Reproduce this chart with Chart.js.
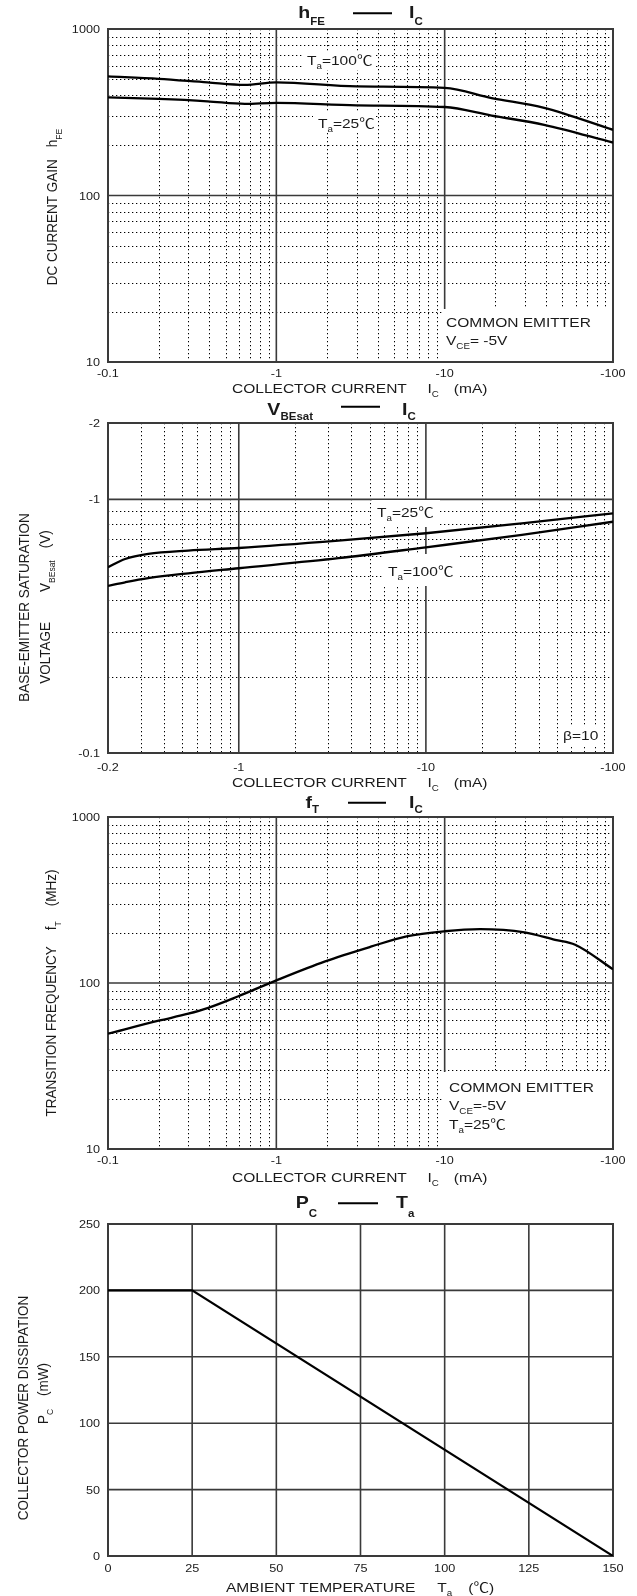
<!DOCTYPE html>
<html lang="en">
<head>
<meta charset="UTF-8" />
<title>hFE / VBEsat / fT / PC characteristics</title>
<script src="https://cdn.jsdelivr.net/npm/chart.js@4"></script>
<style>
  html, body { margin: 0; padding: 0; background: #fff; }
  .sheet { position: relative; width: 637px; height: 1596px; overflow: hidden; }
  .sheet canvas { position: absolute; left: 0; }
</style>
</head>
<body>
<div class="sheet">
  <canvas id="hfeChart" width="637" height="400" style="top:0;width:637px;height:400px"></canvas>
  <canvas id="vbeChart" width="637" height="400" style="top:395px;width:637px;height:400px"></canvas>
  <canvas id="ftChart" width="637" height="400" style="top:790px;width:637px;height:400px"></canvas>
  <canvas id="pcChart" width="637" height="406" style="top:1190px;width:637px;height:406px"></canvas>
</div>
<script>
// Values. Currents and voltages are stored as magnitudes
// (the sheet labels them negative, PNP device) so they fit log axes.

// hFE - IC
const hfeCurrent = [0.1, 0.2, 0.39, 0.65, 1, 3, 10, 19, 39, 100];
const hfeTa100 = [519, 502, 478, 462, 478, 452, 443, 385, 336, 248];
const hfeTa25 = [388, 380, 368, 355, 360, 348, 340, 302, 266, 208];

// VBEsat - IC
const vbeCurrent = [0.2, 0.247, 0.328, 0.537, 1, 3.41, 10, 32.6, 100];
const vbeTa25 = [0.540, 0.582, 0.609, 0.628, 0.643, 0.687, 0.735, 0.804, 0.881];
const vbeTa100 = [0.456, 0.471, 0.489, 0.511, 0.535, 0.586, 0.647, 0.724, 0.816];

// fT - IC
const ftCurrent = [0.1, 0.2, 0.3, 0.39, 0.59, 1, 1.95, 3.68, 5.94, 10, 16.2, 29.8, 45.3, 59.6, 100];
const ftMHz = [49.5, 59.3, 65.3, 70.6, 82.9, 103.7, 135, 166, 191, 205, 211, 202, 182, 170, 121];

// PC - Ta
const pcTemp = [0, 25, 150];
const pcPower = [200, 200, 0];

// tick values / labels
const icTicks = [0.1, 1, 10, 100];
const icLabels = ['-0.1', '-1', '-10', '-100'];
const vbeIcTicks = [0.2, 1, 10, 100];
const vbeIcLabels = ['-0.2', '-1', '-10', '-100'];
const decadeTicks = [10, 100, 1000];
const decadeLabels = ['10', '100', '1000'];
const vbeTicks = [0.1, 1, 2];
const vbeLabels = ['-0.1', '-1', '-2'];
const tempTicks = [0, 25, 50, 75, 100, 125, 150];
const tempLabels = ['0', '25', '50', '75', '100', '125', '150'];
const powerTicks = [0, 50, 100, 150, 200, 250];
const powerLabels = ['0', '50', '100', '150', '200', '250'];

// grid lines (dotted minor, solid major)
const icMinor = [0.2, 0.3, 0.4, 0.5, 0.6, 0.7, 0.8, 0.9, 2, 3, 4, 5, 6, 7, 8, 9, 20, 30, 40, 50, 60, 70, 80, 90];
const vbeIcMinor = [0.3, 0.4, 0.5, 0.6, 0.7, 0.8, 0.9, 2, 3, 4, 5, 6, 7, 8, 9, 20, 30, 40, 50, 60, 70, 80, 90];
const decadeMinor = [20, 30, 40, 50, 60, 70, 80, 90, 200, 300, 400, 500, 600, 700, 800, 900];
const vbeMinor = [0.2, 0.3, 0.4, 0.5, 0.6, 0.7, 0.8, 0.9];

const SX = 1.15; // lettering on the sheet is set a bit wide
const FAMILY = '"Liberation Sans", Arial, "Noto Sans CJK SC", sans-serif';

function seg(ctx, x1, y1, x2, y2) {
  ctx.beginPath();
  ctx.moveTo(x1, y1);
  ctx.lineTo(x2, y2);
  ctx.stroke();
}

// runs: [[text, isSub, gapBefore], ...] drawn on an alphabetic baseline at (x, y)
function drawRuns(ctx, runs, x, y, o) {
  const size = o.size || 13.5, subSize = o.subSize || 8.5, drop = o.drop || 4;
  const weight = o.bold ? 'bold' : 'normal';
  const fontOf = (sub) => `${weight} ${sub ? subSize : size}px ${FAMILY}`;
  let w = 0;
  for (const [text, sub, gap] of runs) {
    ctx.font = fontOf(sub);
    w += (gap || 0) + ctx.measureText(text).width;
  }
  ctx.save();
  ctx.translate(x, y);
  ctx.scale(SX, 1);
  if (o.rotate) ctx.rotate(-Math.PI / 2);
  ctx.fillStyle = '#1a1a1a';
  ctx.textAlign = 'left';
  ctx.textBaseline = 'alphabetic';
  let cx = o.align === 'center' ? -w / 2 : o.align === 'right' ? -w : 0;
  for (const [text, sub, gap] of runs) {
    ctx.font = fontOf(sub);
    cx += gap || 0;
    ctx.fillText(text, cx, sub ? drop : 0);
    cx += ctx.measureText(text).width;
  }
  ctx.restore();
}

const Ta = (rest) => [['T'], ['a', 1], [rest]];

// per-canvas layout of the sheet
const specs = {
  hfeChart: {
    minorX: icMinor, minorY: decadeMinor, majorX: [1, 10], majorY: [100],
    xTicks: icTicks, xLabels: icLabels, xTickY: 377,
    yTicks: decadeTicks, yLabels: decadeLabels,
    title: { left: [['h'], ['FE', 1]], right: [['I'], ['C', 1]], leftEnd: 325, rightStart: 409, line: [353, 392], lineY: 13.3, base: 18.3, drop: 6.5 },
    xTitle: { x: 232, y: 393, runs: [['COLLECTOR CURRENT'], ['I', 0, 18], ['C', 1], ['(mA)', 0, 13]] },
    yTitle: [{ x: 57, cy: 207, runs: [['DC CURRENT GAIN'], ['h', 0, 12], ['FE', 1]] }],
    masks: [[303, 52, 374, 70], [313, 113, 376, 133], [443, 309, 611, 361]],
    notes: [
      { x: 307, y: 65, runs: Ta('=100℃') },
      { x: 318, y: 128, runs: Ta('=25℃') },
      { x: 446, y: 327, runs: [['COMMON EMITTER']] },
      { x: 446, y: 345, runs: [['V'], ['CE', 1], ['= -5V']] }
    ]
  },
  vbeChart: {
    minorX: vbeIcMinor, minorY: vbeMinor, majorX: [1, 10], majorY: [1],
    xTicks: vbeIcTicks, xLabels: vbeIcLabels, xTickY: 376,
    yTicks: vbeTicks, yLabels: vbeLabels,
    title: { left: [['V'], ['BEsat', 1]], right: [['I'], ['C', 1]], leftEnd: 313, rightStart: 402, line: [341, 380], lineY: 11.7, base: 20, drop: 4.5 },
    xTitle: { x: 232, y: 392, runs: [['COLLECTOR CURRENT'], ['I', 0, 18], ['C', 1], ['(mA)', 0, 13]] },
    yTitle: [
      { x: 28.5, cy: 212.5, runs: [['BASE-EMITTER SATURATION']] },
      { x: 50, cy: 212, runs: [['VOLTAGE'], ['V', 0, 30], ['BEsat', 1], ['(V)', 0, 12]] }
    ],
    masks: [[372, 105, 440, 132], [384, 159, 458, 191], [558, 331, 604, 351]],
    notes: [
      { x: 377, y: 122, runs: Ta('=25℃') },
      { x: 388, y: 181, runs: Ta('=100℃') },
      { x: 563, y: 345, runs: [['β=10']] }
    ]
  },
  ftChart: {
    minorX: icMinor, minorY: decadeMinor, majorX: [1, 10], majorY: [100],
    xTicks: icTicks, xLabels: icLabels, xTickY: 374,
    yTicks: decadeTicks, yLabels: decadeLabels,
    title: { left: [['f'], ['T', 1]], right: [['I'], ['C', 1]], leftEnd: 319, rightStart: 409, line: [348, 386], lineY: 12.7, base: 18, drop: 5 },
    xTitle: { x: 232, y: 392, runs: [['COLLECTOR CURRENT'], ['I', 0, 18], ['C', 1], ['(mA)', 0, 13]] },
    yTitle: [{ x: 56, cy: 203, runs: [['TRANSITION FREQUENCY'], ['f', 0, 16], ['T', 1], ['(MHz)', 0, 15]] }],
    masks: [[442, 282, 611, 358]],
    notes: [
      { x: 449, y: 301.5, runs: [['COMMON EMITTER']] },
      { x: 449, y: 320, runs: [['V'], ['CE', 1], ['=-5V']] },
      { x: 449, y: 339, runs: Ta('=25℃') }
    ]
  },
  pcChart: {
    minorX: [], minorY: [], majorX: [25, 50, 75, 100, 125], majorY: [50, 100, 150, 200],
    xTicks: tempTicks, xLabels: tempLabels, xTickY: 382,
    yTicks: powerTicks, yLabels: powerLabels,
    title: { left: [['P'], ['C', 1]], right: [['T'], ['a', 1]], leftEnd: 317, rightStart: 396, line: [338, 378], lineY: 13.3, base: 18.3, drop: 9 },
    xTitle: { x: 226, y: 402, runs: [['AMBIENT TEMPERATURE'], ['T', 0, 19], ['a', 1], ['(℃)', 0, 14]] },
    yTitle: [
      { x: 28.3, cy: 218, runs: [['COLLECTOR POWER DISSIPATION']] },
      { x: 48.3, cy: 203.5, runs: [['P'], ['C', 1], ['(mW)', 0, 13]] }
    ],
    masks: [],
    notes: []
  }
};

const sheetPlugin = {
  id: 'sheet',
  beforeDatasetsDraw(chart) {
    const s = specs[chart.canvas.id];
    const { ctx, chartArea: a } = chart;
    const sx = chart.scales.x, sy = chart.scales.y;
    ctx.save();
    // dotted minor grid
    ctx.lineWidth = 1;
    ctx.strokeStyle = '#000';
    ctx.setLineDash([1.3, 2.7]);
    for (const v of s.minorX) { const p = Math.round(sx.getPixelForValue(v)) + 0.5; seg(ctx, p, a.top, p, a.bottom); }
    for (const v of s.minorY) { const p = Math.round(sy.getPixelForValue(v)) + 0.5; seg(ctx, a.left, p, a.right, p); }
    // solid major grid
    ctx.setLineDash([]);
    ctx.lineWidth = 1.6;
    ctx.strokeStyle = '#3a3a3a';
    for (const v of s.majorX) { const p = sx.getPixelForValue(v); seg(ctx, p, a.top, p, a.bottom); }
    for (const v of s.majorY) { const p = sy.getPixelForValue(v); seg(ctx, a.left, p, a.right, p); }
    // white patches behind the annotations
    ctx.fillStyle = '#fff';
    for (const [x1, y1, x2, y2] of s.masks) ctx.fillRect(x1, y1, x2 - x1, y2 - y1);
    // frame
    ctx.lineWidth = 2;
    ctx.strokeRect(a.left, a.top, a.right - a.left, a.bottom - a.top);
    for (const n of s.notes) drawRuns(ctx, n.runs, n.x, n.y, {});
    ctx.restore();
  },
  afterDraw(chart) {
    const s = specs[chart.canvas.id];
    const { ctx, chartArea: a } = chart;
    const sx = chart.scales.x, sy = chart.scales.y;
    s.xTicks.forEach((v, i) => drawRuns(ctx, [[s.xLabels[i]]], sx.getPixelForValue(v), s.xTickY, { size: 11, align: 'center' }));
    s.yTicks.forEach((v, i) => drawRuns(ctx, [[s.yLabels[i]]], a.left - 8, sy.getPixelForValue(v) + 4, { size: 11, align: 'right' }));

    const t = s.title;
    const head = { size: 17, subSize: 10, drop: t.drop, bold: true };
    drawRuns(ctx, t.left, t.leftEnd, t.base, { ...head, align: 'right' });
    drawRuns(ctx, t.right, t.rightStart, t.base, head);
    ctx.save();
    ctx.lineWidth = 2;
    ctx.strokeStyle = '#000';
    seg(ctx, t.line[0], t.lineY, t.line[1], t.lineY);
    ctx.restore();

    drawRuns(ctx, s.xTitle.runs, s.xTitle.x, s.xTitle.y, {});
    for (const yt of s.yTitle) drawRuns(ctx, yt.runs, yt.x, yt.cy, { rotate: true, align: 'center' });
  }
};

const pts = (xs, ys) => xs.map((x, i) => ({ x, y: ys[i] }));

function curve(xs, ys, width, smooth) {
  return {
    data: pts(xs, ys),
    showLine: true,
    borderColor: '#000',
    borderWidth: width,
    pointRadius: 0,
    fill: false,
    cubicInterpolationMode: smooth ? 'monotone' : 'default',
    tension: 0
  };
}

function sheetChart(id, xScale, yScale, datasets, padding) {
  return new Chart(document.getElementById(id), {
    type: 'scatter',
    data: { datasets },
    options: {
      responsive: false,
      animation: false,
      events: [],
      layout: { padding },
      plugins: { legend: { display: false }, tooltip: { enabled: false } },
      scales: {
        x: { ...xScale, display: false, ticks: { display: false } },
        y: { ...yScale, display: false, ticks: { display: false } }
      }
    },
    plugins: [sheetPlugin]
  });
}

sheetChart('hfeChart',
  { type: 'logarithmic', min: 0.1, max: 100 },
  { type: 'logarithmic', min: 10, max: 1000 },
  [curve(hfeCurrent, hfeTa100, 2.3, true), curve(hfeCurrent, hfeTa25, 2.3, true)],
  { left: 108, right: 24, top: 29, bottom: 38 });

sheetChart('vbeChart',
  { type: 'logarithmic', min: 0.2, max: 100 },
  { type: 'logarithmic', min: 0.1, max: 2 },
  [curve(vbeCurrent, vbeTa25, 2.3, true), curve(vbeCurrent, vbeTa100, 2.3, true)],
  { left: 108, right: 24, top: 28, bottom: 42 });

sheetChart('ftChart',
  { type: 'logarithmic', min: 0.1, max: 100 },
  { type: 'logarithmic', min: 10, max: 1000 },
  [curve(ftCurrent, ftMHz, 2.3, true)],
  { left: 108, right: 24, top: 27, bottom: 41 });

sheetChart('pcChart',
  { type: 'linear', min: 0, max: 150 },
  { type: 'linear', min: 0, max: 250 },
  [curve(pcTemp, pcPower, 2.2, false)],
  { left: 108, right: 24, top: 34, bottom: 40 });
</script>
</body>
</html>
